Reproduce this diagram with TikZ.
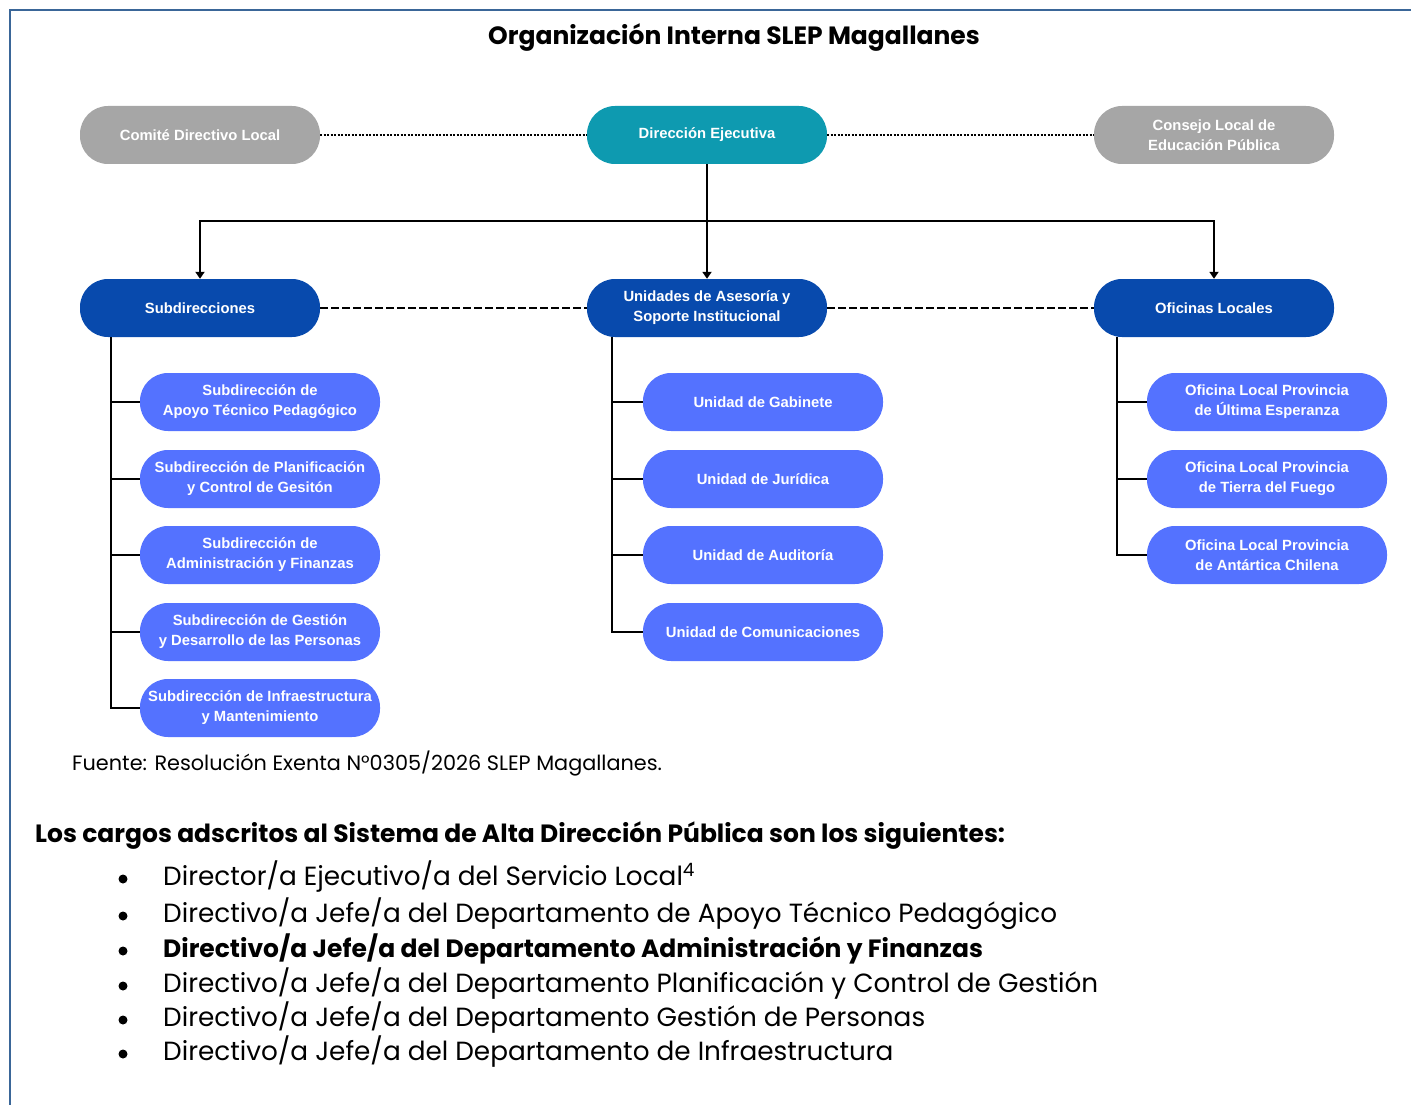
\documentclass[tikz,border=0pt]{standalone}
\usepackage{fontspec}
\setmainfont{Poppins}
\newfontfamily\chartfont{Liberation Sans}
\usetikzlibrary{arrows.meta}

\definecolor{slepgray}{RGB}{166,166,166}
\definecolor{slepteal}{RGB}{14,154,176}
\definecolor{slepnavy}{RGB}{8,74,173}
\definecolor{slepblue}{RGB}{84,114,255}
\definecolor{frameblue}{RGB}{58,102,152}

\newcommand*\unitwidth{240pt}
\newcommand*\unitheight{58pt}
\tikzset{unit/.style={
    rectangle,
    rounded corners=28pt,
    fill=#1,
    text=white,
    font=\chartfont\bfseries\fontsize{14.8}{20}\selectfont,
    minimum width=\unitwidth,
    minimum height=\unitheight,
    inner sep=1pt,
    align=center
}}
\tikzset{link/.style={line width=2.2pt, black},
    tip/.style={-{Triangle[width=9pt,length=7pt]}},
    dotlink/.style={line width=2.4pt, black, dash pattern=on 2.2pt off 1.3pt},
    dashlink/.style={line width=2pt, black, dash pattern=on 8pt off 3pt},
    dot/.style={circle, fill=black, inner sep=0pt, minimum size=9pt},
    txt/.style={anchor=west, inner sep=0pt}}

\begin{document}
\begin{tikzpicture}[x=1pt,y=-1pt]
    \useasboundingbox (0,0) rectangle (1411,1105);

    % Frame around the page.
    \draw[frameblue, line width=2pt] (10,1105) -- (10,10) -- (1411,10);

    \node[font=\bfseries\fontsize{25}{28}\selectfont] (title) at (734,38) {Organización Interna SLEP Magallanes};

    % Top level.
    \node[unit=slepgray] (comite) at (200,135) {Comité Directivo Local};
    \node[unit=slepteal] (direccion) at (707,135) {Dirección Ejecutiva};
    \node[unit=slepgray] (consejo) at (1214,135) {Consejo Local de\\Educación Pública};
    \draw[dotlink] (comite) -- (direccion);
    \draw[dotlink] (direccion) -- (consejo);

    % Second level.
    \node[unit=slepnavy] (subdir) at (200,308) {Subdirecciones};
    \node[unit=slepnavy] (unidades) at (707,308) {Unidades de Asesoría y\\Soporte Institucional};
    \node[unit=slepnavy] (oficinas) at (1214,308) {Oficinas Locales};
    \draw[dashlink] (subdir) -- (unidades);
    \draw[dashlink] (unidades) -- (oficinas);

    \coordinate (split) at (707,221);
    \draw[link,tip] (direccion) -- (unidades);
    \draw[link,tip] (split) -| (subdir);
    \draw[link,tip] (split) -| (oficinas);

    % Subdirecciones.
    \node[unit=slepblue] (s1) at (260,402) {Subdirección de\\Apoyo Técnico Pedagógico};
    \node[unit=slepblue] (s2) at (260,479) {Subdirección de Planificación\\y Control de Gesitón};
    \node[unit=slepblue] (s3) at (260,555) {Subdirección de\\Administración y Finanzas};
    \node[unit=slepblue] (s4) at (260,632) {Subdirección de Gestión\\y Desarrollo de las Personas};
    \node[unit=slepblue] (s5) at (260,708) {Subdirección de Infraestructura\\y Mantenimiento};
    \coordinate (strunk) at ([xshift=-89pt]subdir.south);
    \foreach \n in {s1,s2,s3,s4,s5}
        \draw[link] (strunk) |- (\n.west);

    % Unidades.
    \node[unit=slepblue] (u1) at (763,402) {Unidad de Gabinete};
    \node[unit=slepblue] (u2) at (763,479) {Unidad de Jurídica};
    \node[unit=slepblue] (u3) at (763,555) {Unidad de Auditoría};
    \node[unit=slepblue] (u4) at (763,632) {Unidad de Comunicaciones};
    \coordinate (utrunk) at ([xshift=-95pt]unidades.south);
    \foreach \n in {u1,u2,u3,u4}
        \draw[link] (utrunk) |- (\n.west);

    % Oficinas locales.
    \node[unit=slepblue] (o1) at (1267,402) {Oficina Local Provincia\\de Última Esperanza};
    \node[unit=slepblue] (o2) at (1267,479) {Oficina Local Provincia\\de Tierra del Fuego};
    \node[unit=slepblue] (o3) at (1267,555) {Oficina Local Provincia\\de Antártica Chilena};
    \coordinate (otrunk) at ([xshift=-97pt]oficinas.south);
    \foreach \n in {o1,o2,o3}
        \draw[link] (otrunk) |- (\n.west);

    \node[txt, font=\fontsize{20.8}{24}\selectfont] (fuente) at (72,764) {Fuente: Resolución Exenta N°0305/2026 SLEP Magallanes.};

    % List of positions.
    \node[txt, font=\bfseries\fontsize{25}{28}\selectfont] (cargos) at (35,836) {Los cargos adscritos al Sistema de Alta Dirección Pública son los siguientes:};
    \begin{scope}[every node/.append style={font=\fontsize{26.3}{30}\selectfont}]
        \node[dot] (b1) at (123,879) {};
        \node[dot] (b2) at (123,916) {};
        \node[dot] (b3) at (123,951) {};
        \node[dot] (b4) at (123,986) {};
        \node[dot] (b5) at (123,1020) {};
        \node[dot] (b6) at (123,1054) {};
        \node[txt] (c1) at (163,877) {Director/a Ejecutivo/a del Servicio Local\textsuperscript{4}};
        \node[txt] (c2) at (163,914) {Directivo/a Jefe/a del Departamento de Apoyo Técnico Pedagógico};
        \node[txt] (c3) at (163,949) {\bfseries\fontsize{25}{30}\selectfont Directivo/a Jefe/a del Departamento Administración y Finanzas};
        \node[txt] (c4) at (163,984) {Directivo/a Jefe/a del Departamento Planificación y Control de Gestión};
        \node[txt] (c5) at (163,1018) {Directivo/a Jefe/a del Departamento Gestión de Personas};
        \node[txt] (c6) at (163,1052) {Directivo/a Jefe/a del Departamento de Infraestructura};
    \end{scope}

\end{tikzpicture}
\end{document}
